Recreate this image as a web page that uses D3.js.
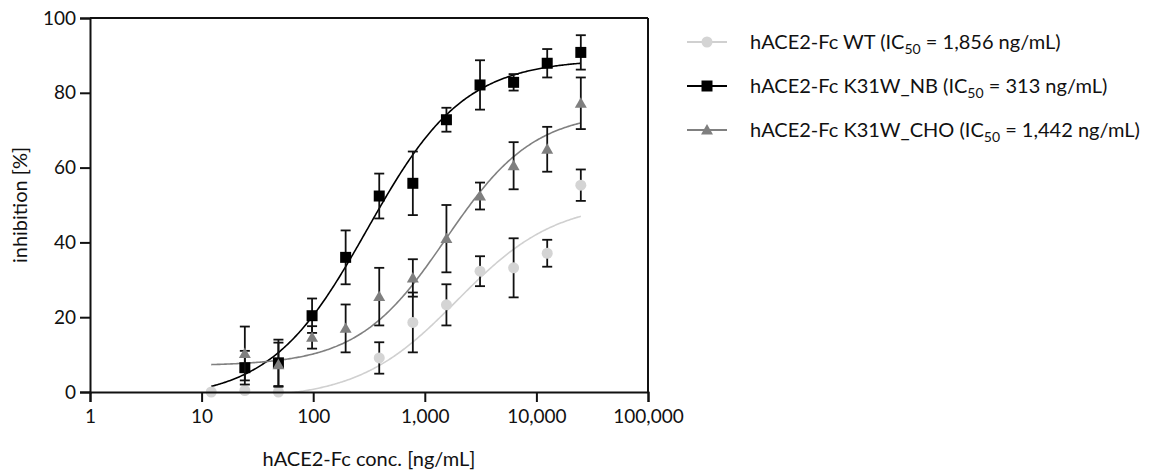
<!DOCTYPE html>
<html>
<head>
<meta charset="utf-8">
<script src="https://cdn.jsdelivr.net/npm/d3@7/dist/d3.min.js"></script>
<style>
  html, body { margin: 0; padding: 0; background: #fff; }
  svg { display: block; font-family: Lato, "Open Sans", sans-serif; }
</style>
</head>
<body>
<svg id="chart" width="1158" height="472"></svg>
<script>
// ---- data ----
const conc = [12.2, 24.4, 48.8, 97.7, 195.3, 390.6, 781.3, 1562.5, 3125, 6250, 12500, 25000];

const wtMean  = [0, 0.4, 0, null, null, 9.1, 18.6, 23.3, 32.3, 33.2, 37.1, 55.3];
const wtErr   = [null, null, null, null, null, 4.2, 8.0, 5.5, 4.0, 7.9, 3.6, 4.2];

const nbMean  = [null, 6.5, 7.8, 20.4, 36.0, 52.4, 55.8, 72.8, 82.1, 82.8, 87.9, 90.8];
const nbErr   = [null, 4.5, 6.2, 4.6, 7.2, 6.0, 8.5, 3.2, 6.6, 2.2, 3.8, 4.6];

const choMean = [null, 10.3, 7.3, 14.6, 17.0, 25.5, 30.5, 41.0, 52.4, 60.5, 64.9, 77.2];
const choErr  = [null, 7.2, 5.9, 3.0, 6.4, 7.7, 5.0, 9.0, 3.6, 6.3, 6.0, 6.9];

// 4PL fit parameters: bottom, top, IC50, hill
const wtFit  = [-2.0, 51, 1950, 0.98];
const nbFit  = [-2, 89, 305, 1.0];
const choFit = [7, 75, 1550, 1.1];

const xTicks = [1, 10, 100, 1000, 10000, 100000];
const yTicks = [0, 20, 40, 60, 80, 100];

const legendLabels = [
  ["hACE2-Fc WT (IC", "50", " = 1,856 ng/mL)"],
  ["hACE2-Fc K31W_NB (IC", "50", " = 313 ng/mL)"],
  ["hACE2-Fc K31W_CHO (IC", "50", " = 1,442 ng/mL)"]
];

// ---- chart ----
const svg = d3.select("#chart");
const L = 90, R = 648, T = 18, B = 392;

const x = d3.scaleLog().domain([1, 100000]).range([L, R]);
const y = d3.scaleLinear().domain([0, 100]).range([B, T]);

const series = [
  { mean: wtMean,  err: wtErr,  fit: wtFit,  color: "#d4d4d4", line: "#d0d0d0", shape: "circle" },
  { mean: nbMean,  err: nbErr,  fit: nbFit,  color: "#000000", line: "#000000", shape: "square" },
  { mean: choMean, err: choErr, fit: choFit, color: "#7f7f7f", line: "#808080", shape: "triangle" }
];

function fourPL(p, c) {
  return p[0] + (p[1] - p[0]) / (1 + Math.pow(p[2] / c, p[3]));
}

const defs = svg.append("defs");
defs.append("clipPath").attr("id", "plotClip")
  .append("rect").attr("x", L).attr("y", T).attr("width", R - L).attr("height", B - T);

// frame (top & right)
svg.append("line").attr("x1", L).attr("x2", R).attr("y1", T).attr("y2", T)
  .attr("stroke", "#111").attr("stroke-width", 2);
svg.append("line").attr("x1", R).attr("x2", R).attr("y1", T).attr("y2", B)
  .attr("stroke", "#111").attr("stroke-width", 2);

function markerPath(shape) {
  if (shape === "square") return d3.symbol().type(d3.symbolSquare).size(121)();
  if (shape === "triangle") return d3.symbol().type(d3.symbolTriangle).size(62)();
  return d3.symbol().type(d3.symbolCircle).size(95)();
}

const plot = svg.append("g").attr("clip-path", "url(#plotClip)");
const marks = svg.append("g");

series.forEach(s => {
  // fitted curve
  const lc = Math.log10(conc[0]), hc = Math.log10(conc[conc.length - 1]);
  const pts = d3.range(0, 301).map(i => {
    const c = Math.pow(10, lc + (hc - lc) * i / 300);
    return [c, fourPL(s.fit, c)];
  });
  plot.append("path")
    .datum(pts)
    .attr("fill", "none")
    .attr("stroke", s.line)
    .attr("stroke-width", 1.6)
    .attr("d", d3.line().x(d => x(d[0])).y(d => y(d[1])));
});

series.forEach(s => {
  const g = marks.append("g");
  const data = conc.map((c, i) => ({ c, m: s.mean[i], e: s.err[i] })).filter(d => d.m !== null);
  // error bars
  data.filter(d => d.e !== null).forEach(d => {
    const cx = x(d.c), y1 = y(d.m + d.e), y2 = y(d.m - d.e);
    g.append("line").attr("x1", cx).attr("x2", cx).attr("y1", y1).attr("y2", y2)
      .attr("stroke", "#111").attr("stroke-width", 1.8);
    [y1, y2].forEach(yy => g.append("line")
      .attr("x1", cx - 5).attr("x2", cx + 5).attr("y1", yy).attr("y2", yy)
      .attr("stroke", "#111").attr("stroke-width", 1.8));
  });
  // markers
  g.selectAll("path.m").data(data).enter().append("path")
    .attr("class", "m")
    .attr("d", markerPath(s.shape))
    .attr("transform", d => `translate(${x(d.c)},${y(d.m) + (s.shape === "triangle" ? 1 : 0)})`)
    .attr("fill", s.color);
});

// axes
const xAxis = d3.axisBottom(x).tickValues(xTicks).tickSize(10).tickPadding(8)
  .tickFormat(d3.format(","));
const gx = svg.append("g").attr("transform", `translate(0,${B})`).call(xAxis);
gx.select(".domain").attr("stroke", "#111").attr("stroke-width", 2);
gx.selectAll(".tick line").attr("stroke", "#111").attr("stroke-width", 2);
gx.selectAll(".tick text").attr("fill", "#111").style("font-size", "19px").style("font-family", "Lato");

const yAxis = d3.axisLeft(y).tickValues(yTicks).tickSize(10).tickPadding(4);
const gy = svg.append("g").attr("transform", `translate(${L},0)`).call(yAxis);
gy.select(".domain").attr("stroke", "#111").attr("stroke-width", 2);
gy.selectAll(".tick line").attr("stroke", "#111").attr("stroke-width", 2);
gy.selectAll(".tick text").attr("fill", "#111").style("font-size", "19px").style("font-family", "Lato");

// axis titles
svg.append("text").attr("x", (L + R) / 2).attr("y", 466)
  .attr("text-anchor", "middle").attr("fill", "#111")
  .style("font-size", "20px").text("hACE2-Fc conc. [ng/mL]");
svg.append("text")
  .attr("transform", `translate(27,${(T + B) / 2}) rotate(-90)`)
  .attr("text-anchor", "middle").attr("fill", "#111")
  .style("font-size", "20px").text("inhibition [%]");

// legend
const legY = [42, 86, 130];
series.forEach((s, i) => {
  const g = svg.append("g").attr("transform", `translate(0,${legY[i]})`);
  g.append("line").attr("x1", 687).attr("x2", 727).attr("y1", 0).attr("y2", 0)
    .attr("stroke", s.line).attr("stroke-width", 2);
  g.append("path").attr("d", markerPath(s.shape))
    .attr("transform", `translate(707,${s.shape === "triangle" ? 1 : 0})`)
    .attr("fill", s.color);
  const t = g.append("text").attr("x", 750).attr("y", 7).attr("fill", "#111")
    .style("font-size", "20px");
  t.append("tspan").text(legendLabels[i][0]);
  t.append("tspan").attr("dy", 5).style("font-size", "14px").text(legendLabels[i][1]);
  t.append("tspan").attr("dy", -5).text(legendLabels[i][2]);
});
</script>
</body>
</html>
